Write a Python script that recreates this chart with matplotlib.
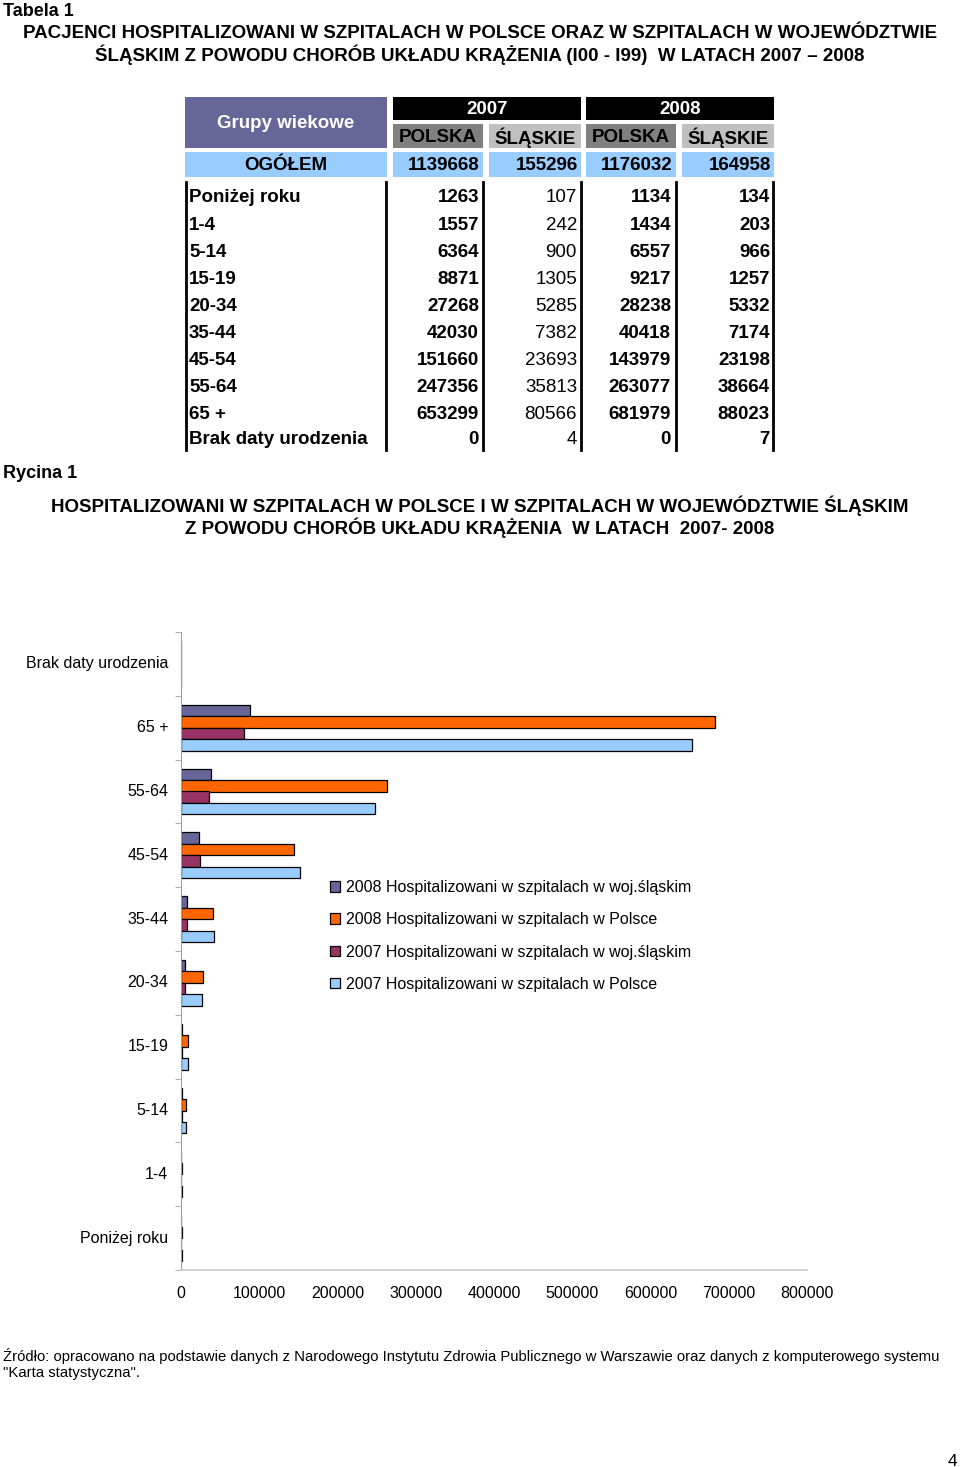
import matplotlib.pyplot as plt
from matplotlib.patches import Rectangle
import numpy as np

plt.rcParams['font.family'] = ['Liberation Sans', 'DejaVu Sans']

groups = ['Poniżej roku', '1-4', '5-14', '15-19', '20-34', '35-44', '45-54',
          '55-64', '65 +', 'Brak daty urodzenia']
polska_2007 = [1263, 1557, 6364, 8871, 27268, 42030, 151660, 247356, 653299, 0]
slaskie_2007 = [107, 242, 900, 1305, 5285, 7382, 23693, 35813, 80566, 4]
polska_2008 = [1134, 1434, 6557, 9217, 28238, 40418, 143979, 263077, 681979, 0]
slaskie_2008 = [134, 203, 966, 1257, 5332, 7174, 23198, 38664, 88023, 7]
ogolem = [1139668, 155296, 1176032, 164958]
years = ['2007', '2008']
regions = ['POLSKA', 'ŚLĄSKIE']
legend_labels = ['2008 Hospitalizowani w szpitalach w woj.śląskim',
                 '2008 Hospitalizowani w szpitalach w Polsce',
                 '2007 Hospitalizowani w szpitalach w woj.śląskim',
                 '2007 Hospitalizowani w szpitalach w Polsce']
xticks = [0, 100000, 200000, 300000, 400000, 500000, 600000, 700000, 800000]

fig = plt.figure(figsize=(9.6, 14.67), dpi=100)

# page layer in pixel coordinates
pg = fig.add_axes([0, 0, 1, 1])
pg.set_xlim(0, 960)
pg.set_ylim(1467, 0)
pg.axis('off')


def box(x, y, w, h, c):
    pg.add_patch(Rectangle((x, y), w, h, facecolor=c, edgecolor='none'))


def txt(x, y, s, size=13.5, bold=True, ha='left', color='black'):
    # +2 px: matplotlib centres on the full box incl. descenders
    pg.text(x, y + 2, s, fontsize=size, fontweight='bold' if bold else 'normal',
            ha=ha, va='center', color=color)


txt(3, 10, 'Tabela 1', 13)
txt(480, 31, 'PACJENCI HOSPITALIZOWANI W SZPITALACH W POLSCE ORAZ W SZPITALACH W WOJEWÓDZTWIE', 13.5, ha='center')
txt(480, 53, 'ŚLĄSKIM Z POWODU CHORÓB UKŁADU KRĄŻENIA (I00 - I99)  W LATACH 2007 – 2008', 13.5, ha='center')

# table header
box(185, 97, 202, 51, '#666699')
txt(286, 122, 'Grupy wiekowe', ha='center', color='white')
cols = [(393, 90), (489, 92), (586, 90), (682, 92)]
for i, yr in enumerate(years):
    x0 = cols[2 * i][0]
    box(x0, 97, 188, 23, 'black')
    txt(x0 + 94, 108, yr, ha='center', color='white')
for j, (x0, w) in enumerate(cols):
    box(x0, 124, w, 24, '#808080' if j % 2 == 0 else '#c0c0c0')
    txt(x0 + w / 2, 136, regions[j % 2], ha='center')
    box(x0, 152, w, 25, '#99ccff')
    txt(x0 + w - 3, 164, str(ogolem[j]), ha='right')
box(185, 152, 202, 25, '#99ccff')
txt(286, 164, 'OGÓŁEM', ha='center')

# table body
for xl in [186, 386, 483, 581, 676, 773]:
    pg.plot([xl, xl], [182, 450], color='black', lw=2)
table_cols = [polska_2007, slaskie_2007, polska_2008, slaskie_2008]
right_edges = [479, 577, 671, 770]
weights = [True, False, True, True]
for i, g in enumerate(groups):
    yy = 196 + 27.1 * i if i < 9 else 437
    txt(189, yy, g)
    for c, xr, b in zip(table_cols, right_edges, weights):
        txt(xr, yy, str(c[i]), bold=b, ha='right')

txt(3, 472, 'Rycina 1', 13)
txt(480, 504, 'HOSPITALIZOWANI W SZPITALACH W POLSCE I W SZPITALACH W WOJEWÓDZTWIE ŚLĄSKIM', 13.5, ha='center')
txt(480, 526, 'Z POWODU CHORÓB UKŁADU KRĄŻENIA  W LATACH  2007- 2008', 13.5, ha='center')

# bar chart
ax = fig.add_axes([181 / 960, 1 - 1270 / 1467, 626 / 960, 638 / 1467])
y = np.arange(len(groups))
h = 0.18
series = [(slaskie_2008, '#666699', 1.5), (polska_2008, '#ff6600', 0.5),
          (slaskie_2007, '#993366', -0.5), (polska_2007, '#99ccff', -1.5)]
for (vals, col, off), lab in zip(series, legend_labels):
    ax.barh(y + off * h, vals, height=h, color=col, edgecolor='black',
            linewidth=0.9, label=lab)
ax.set_xlim(0, 800000)
ax.set_ylim(-0.5, 9.5)
ax.set_yticks(y, groups, fontsize=11.5, va='center')
ax.set_yticks(np.arange(-0.5, 10, 1), minor=True)
ax.tick_params(axis='y', which='major', length=0, pad=9)
ax.tick_params(axis='y', which='minor', length=4, color='#a0a0a0')
ax.set_xticks(xticks, [str(v) for v in xticks], fontsize=11.5)
ax.tick_params(axis='x', length=0, pad=11.5)
for s in ['top', 'right']:
    ax.spines[s].set_visible(False)
ax.spines['left'].set_color('#a0a0a0')
ax.spines['bottom'].set_color('#d0d0d0')
ax.spines['bottom'].set_linewidth(1.5)

ax.legend(loc='upper left', bbox_to_anchor=(330 / 960, 1 - 880 / 1467),
          bbox_transform=fig.transFigure, frameon=False, fontsize=11.5,
          handlelength=0.65, handleheight=0.65, handletextpad=0.35,
          labelspacing=1.08, borderpad=0, borderaxespad=0)

pg.text(3, 1356, 'Źródło: opracowano na podstawie danych z Narodowego Instytutu Zdrowia Publicznego w Warszawie oraz danych z komputerowego systemu',
        fontsize=10.7, va='center')
pg.text(3, 1373, '"Karta statystyczna".', fontsize=10.7, va='center')
pg.text(952, 1461, '4', fontsize=12.5, va='center', ha='center')

fig.savefig('out.png', dpi=100)
